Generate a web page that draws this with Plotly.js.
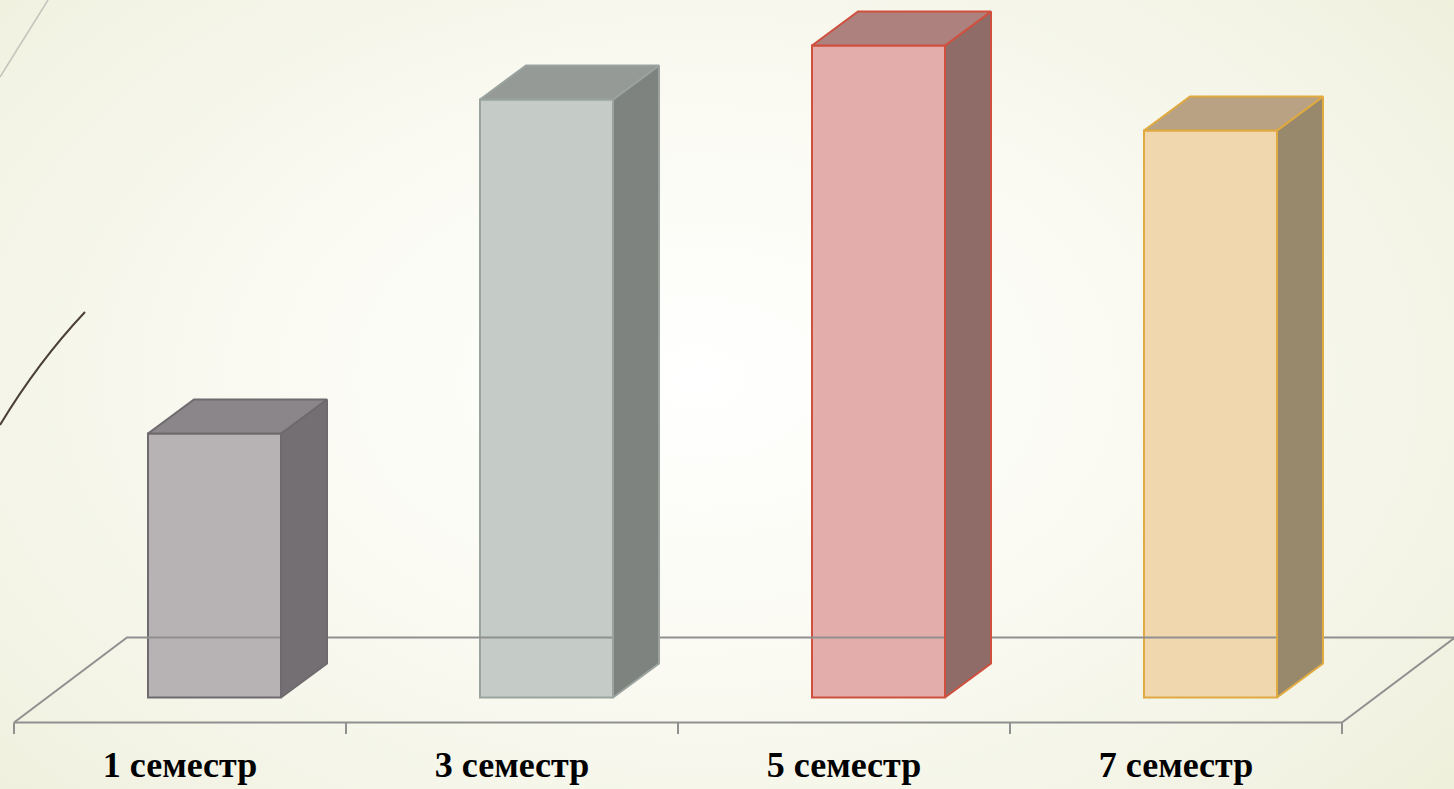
<!DOCTYPE html>
<html>
<head>
<meta charset="utf-8">
<script src="https://cdn.plot.ly/plotly-3.0.1.min.js"></script>
<style>
  html, body { margin: 0; padding: 0; width: 1454px; height: 789px; overflow: hidden; }
  body { background: radial-gradient(ellipse 75% 90% at 48% 48%, #ffffff 0%, #fafaf2 40%, #f2f3e4 75%, #eceed6 100%); }
  #chart { width: 1454px; height: 789px; }
</style>
</head>
<body>
<div id="chart"></div>
<script>
// ---- data ----
const categories = ['1 семестр', '3 семестр', '5 семестр', '7 семестр'];
const values = [26.4, 59.8, 65.2, 56.7];

// ---- styles ----
const frontColors = ['#b7b3b4', '#c5ccc7', '#e2adaa', '#f0d7ae'];
const sideColors  = ['#736f73', '#7e8380', '#8f6c68', '#98896d'];
const topColors   = ['#8a8689', '#959a97', '#ad817d', '#b8a283'];
const edgeColors  = ['#6e6a6e', '#9aa39e', '#d0503e', '#e0aa40'];

// geometry (in axis units: x slot = 1 category, y unit = value unit)
const SLOT = 332;            // px per category
const YPX = 10;              // px per value unit
const frontOffset = 34.5 / SLOT;   // bar front face centre offset from slot centre
const barW = 133 / SLOT;
const depthX = 46 / SLOT, depthY = 34 / YPX;
const floorDX = 113 / SLOT, floorFront = -2.5, floorBack = 6.0;
const tickBottom = -3.65, labelY = -7.05;
const floorColor = '#909090';

const traces = [];

// floor (drawn first so bars hide back edge)
const nCat = categories.length;
const fl = -0.5, fr = nCat - 0.5;
traces.push({
  type: 'scatter', mode: 'lines', hoverinfo: 'skip', showlegend: false,
  x: [fl, fl + floorDX, fr + floorDX, fr],
  y: [floorFront, floorBack, floorBack, floorFront],
  line: { color: floorColor, width: 2 }
});

// front faces as bars
traces.push({
  type: 'bar', hoverinfo: 'skip', showlegend: false,
  x: categories.map((c, i) => i + frontOffset),
  y: values,
  width: barW,
  marker: { color: frontColors, line: { color: edgeColors, width: 2 } }
});

// side and top faces
values.forEach((v, i) => {
  const xl = i + frontOffset - barW / 2, xr = i + frontOffset + barW / 2;
  traces.push({
    type: 'scatter', mode: 'lines', fill: 'toself', hoverinfo: 'skip', showlegend: false,
    x: [xr, xr + depthX, xr + depthX, xr, xr],
    y: [0, depthY, v + depthY, v, 0],
    fillcolor: sideColors[i], line: { color: edgeColors[i], width: 2 }
  });
  traces.push({
    type: 'scatter', mode: 'lines', fill: 'toself', hoverinfo: 'skip', showlegend: false,
    x: [xl, xr, xr + depthX, xl + depthX, xl],
    y: [v, v, v + depthY, v + depthY, v],
    fillcolor: topColors[i], line: { color: edgeColors[i], width: 2 }
  });
});

// front floor edge + ticks
const tx = [], ty = [];
tx.push(fl, fr, null); ty.push(floorFront, floorFront, null);
for (let k = 0; k <= nCat; k++) {
  tx.push(k - 0.5, k - 0.5, null);
  ty.push(floorFront, tickBottom, null);
}
traces.push({
  type: 'scatter', mode: 'lines', hoverinfo: 'skip', showlegend: false,
  x: tx, y: ty, line: { color: floorColor, width: 2 }
});

// category labels
traces.push({
  type: 'scatter', mode: 'text', hoverinfo: 'skip', showlegend: false,
  x: categories.map((c, i) => i), y: categories.map(() => labelY),
  text: categories, textposition: 'middle center',
  textfont: { family: 'Liberation Serif, Times New Roman, serif', size: 36, color: '#000000', weight: 'bold' },
  texttemplate: '<b>%{text}</b>'
});

const W = 1454, H = 789;
const layout = {
  width: W, height: H,
  margin: { l: 0, r: 0, t: 0, b: 0 },
  paper_bgcolor: 'rgba(0,0,0,0)', plot_bgcolor: 'rgba(0,0,0,0)',
  xaxis: { range: [-180 / SLOT, (W - 180) / SLOT], visible: false, fixedrange: true },
  yaxis: { range: [-(H - 697.5) / YPX, 697.5 / YPX], visible: false, fixedrange: true },
  showlegend: false,
  shapes: [
    { type: 'line', xref: 'paper', yref: 'paper', x0: 0, y0: 1 - 77 / H, x1: 48 / W, y1: 1,
      line: { color: '#c4c4bc', width: 1.5 }, layer: 'below' },
    { type: 'path', xref: 'paper', yref: 'paper',
      path: `M 0 ${1 - 425 / H} Q ${38 / W} ${1 - 362 / H} ${85 / W} ${1 - 312 / H}`,
      line: { color: '#4a4038', width: 2 }, layer: 'below' }
  ]
};

Plotly.newPlot('chart', traces, layout, { displayModeBar: false, staticPlot: true });
</script>
</body>
</html>
